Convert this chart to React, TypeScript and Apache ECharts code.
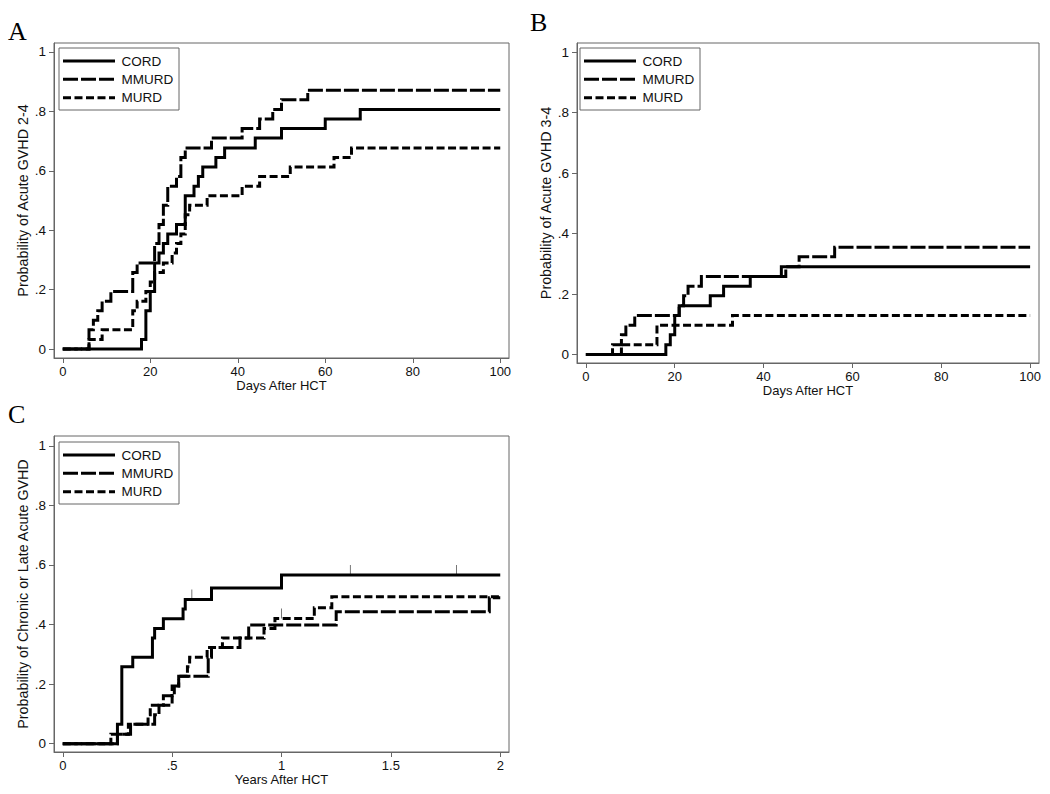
import React, { useEffect, useRef } from "react";
import * as echarts from "echarts";

// ---- Data ----
const seriesNames = ["CORD", "MMURD", "MURD"];

// Panel A: Probability of Acute GVHD 2-4 (days)
const aCord = [[0,0],[18,0.032],[19,0.129],[20,0.194],[21,0.290],[22,0.323],[23,0.355],[24,0.387],[26,0.419],[28,0.516],[30,0.548],[31,0.581],[32,0.613],[35,0.645],[37,0.677],[44,0.710],[50,0.742],[60,0.774],[68,0.806],[100,0.806]];
const aMmurd = [[0,0],[6,0.065],[7,0.097],[8,0.129],[9,0.161],[11,0.194],[16,0.258],[17,0.290],[21,0.355],[22,0.419],[23,0.484],[24,0.548],[26,0.581],[27,0.645],[28,0.677],[34,0.710],[41,0.742],[45,0.774],[48,0.806],[50,0.839],[56,0.871],[100,0.871]];
const aMurd = [[0,0],[6,0.032],[9,0.065],[16,0.129],[17,0.161],[19,0.194],[20,0.226],[21,0.258],[23,0.290],[25,0.323],[26,0.355],[27,0.387],[28,0.452],[29,0.484],[33,0.516],[41,0.548],[45,0.581],[52,0.613],[62,0.645],[66,0.677],[100,0.677]];

// Panel B: Probability of Acute GVHD 3-4 (days)
const bCord = [[0,0],[18,0.032],[19,0.065],[20,0.129],[21,0.161],[28,0.194],[31,0.226],[37,0.258],[44,0.290],[100,0.290]];
const bMmurd = [[0,0],[6,0.032],[8,0.065],[9,0.097],[11,0.129],[21,0.161],[22,0.194],[23,0.226],[26,0.258],[45,0.290],[48,0.323],[56,0.355],[100,0.355]];
const bMurd = [[0,0],[8,0.032],[16,0.097],[33,0.129],[100,0.129]];

// Panel C: Probability of Chronic or Late Acute GVHD (years)
const cCord = [[0,0],[0.25,0.065],[0.27,0.258],[0.32,0.290],[0.41,0.355],[0.42,0.387],[0.46,0.419],[0.55,0.452],[0.56,0.484],[0.68,0.523],[1.0,0.566],[2,0.566]];
const cMmurd = [[0,0],[0.25,0.032],[0.31,0.065],[0.42,0.097],[0.44,0.129],[0.46,0.161],[0.50,0.194],[0.53,0.226],[0.665,0.290],[0.68,0.323],[0.81,0.355],[0.85,0.398],[1.25,0.443],[1.95,0.490],[2,0.490]];
const cMurd = [[0,0],[0.22,0.032],[0.30,0.065],[0.39,0.097],[0.40,0.129],[0.50,0.161],[0.51,0.194],[0.53,0.226],[0.57,0.258],[0.58,0.290],[0.66,0.323],[0.73,0.355],[0.92,0.387],[0.97,0.420],[1.15,0.456],[1.23,0.493],[2,0.493]];
const cCordCensor = [[0.59,0.484],[1.315,0.566],[1.80,0.566]];
const cMurdCensor = [[1.0,0.420]];

const dayTicks = [0, 20, 40, 60, 80, 100];
const yearTicks = [0, 0.5, 1, 1.5, 2];
const probTicks = [0, 0.2, 0.4, 0.6, 0.8, 1];

const panelLetters = ["A", "B", "C"];
const yTitles = [
  "Probability of Acute GVHD 2-4",
  "Probability of Acute GVHD 3-4",
  "Probability of Chronic or Late Acute GVHD",
];
const xTitles = ["Days After HCT", "Days After HCT", "Years After HCT"];

// ---- Styles ----
const SANS = "'Liberation Sans', Arial, Helvetica, sans-serif";
const SERIF = "'Liberation Serif', 'Times New Roman', serif";
const FRAME = "#666";
const TEXT = "#111";
const dashes: any[] = ["solid", [15, 3], [8, 3.5]];

const fmtNum = (v: number) => {
  if (v === 0) return "0";
  const s = String(Math.round(v * 100) / 100);
  return s.startsWith("0.") ? s.slice(1) : s;
};

function makeAxes(i: number, xMin: number, xMax: number, xTicks: number[], yMin: number, yMax: number) {
  const tickStyle = { color: FRAME, width: 1 };
  const labelStyle = { fontFamily: SANS, fontSize: 13, color: TEXT };
  const xAxis = {
    gridIndex: i,
    type: "value",
    min: xMin,
    max: xMax,
    axisLine: { show: true, onZero: false, lineStyle: tickStyle },
    axisTick: { show: true, inside: false, length: 5, customValues: xTicks, lineStyle: tickStyle },
    axisLabel: { ...labelStyle, margin: 7, customValues: xTicks, formatter: (v: number) => fmtNum(v) },
    splitLine: { show: false },
    name: xTitles[i],
    nameLocation: "middle",
    nameGap: 21,
    nameTextStyle: { fontFamily: SANS, fontSize: 13, color: TEXT },
  };
  const yAxis = {
    gridIndex: i,
    type: "value",
    min: yMin,
    max: yMax,
    axisLine: { show: true, onZero: false, lineStyle: tickStyle },
    axisTick: { show: true, inside: false, length: 5, customValues: probTicks, lineStyle: tickStyle },
    axisLabel: { ...labelStyle, fontSize: 13.5, margin: 8, customValues: probTicks, formatter: (v: number) => fmtNum(v) },
    splitLine: { show: false },
    name: yTitles[i],
    nameLocation: "middle",
    nameRotate: 90,
    nameGap: 24,
    nameTextStyle: { fontFamily: SANS, fontSize: 14.3, color: TEXT },
  };
  return { xAxis, yAxis };
}

function lineSeries(name: string, idx: number, data: number[][], styleIdx: number) {
  return {
    name,
    type: "line",
    xAxisIndex: idx,
    yAxisIndex: idx,
    data,
    step: "end",
    symbol: "none",
    silent: true,
    lineStyle: { color: "#000", width: 3, type: dashes[styleIdx], cap: "butt", join: "miter" },
  };
}

function censorSeries(idx: number, data: number[][]) {
  return {
    type: "scatter",
    xAxisIndex: idx,
    yAxisIndex: idx,
    data,
    symbol: "rect",
    symbolSize: [1, 10],
    symbolOffset: [0, -5],
    silent: true,
    itemStyle: { color: "#555" },
    z: 1,
  };
}

function legendGroup(x: number, y: number) {
  const rows = [13, 31.3, 49.7];
  const children: any[] = [
    {
      type: "rect",
      shape: { x: 0, y: 0, width: 120, height: 62 },
      style: { fill: "#fff", stroke: FRAME, lineWidth: 1 },
    },
  ];
  seriesNames.forEach((n, k) => {
    children.push({
      type: "line",
      shape: { x1: 4, y1: rows[k], x2: 56, y2: rows[k] },
      style: {
        stroke: "#000",
        lineWidth: 3,
        lineDash: k === 0 ? null : dashes[k],
        lineCap: "butt",
      },
    });
    children.push({
      type: "text",
      x: 62.5,
      y: rows[k],
      style: { text: n, fontFamily: SANS, fontSize: 13.5, fill: TEXT, verticalAlign: "middle", align: "left" },
    });
  });
  return { type: "group", x, y, children, z: 100 };
}

function letter(t: string, x: number, y: number) {
  return {
    type: "text",
    x,
    y,
    style: { text: t, fontFamily: SERIF, fontSize: 26, fill: "#000", verticalAlign: "middle", align: "left" },
  };
}

export default function App() {
  const ref = useRef<HTMLDivElement>(null);
  useEffect(() => {
    if (!ref.current) return;
    const chart = echarts.init(ref.current, null, { renderer: "svg" });

    const gA = makeAxes(0, -2, 102, dayTicks, -0.03, 1.03);
    const gB = makeAxes(1, -2, 102, dayTicks, -0.028, 1.03);
    const gC = makeAxes(2, -0.04, 2.04, yearTicks, -0.028, 1.033);

    const gridStyle = { show: true, borderColor: FRAME, borderWidth: 1, backgroundColor: "transparent" };

    chart.setOption({
      animation: false,
      backgroundColor: "#fff",
      grid: [
        { ...gridStyle, left: 54, top: 43, width: 455, height: 315 },
        { ...gridStyle, left: 577, top: 43, width: 462, height: 320 },
        { ...gridStyle, left: 54, top: 436, width: 455, height: 316 },
      ],
      xAxis: [gA.xAxis, gB.xAxis, gC.xAxis],
      yAxis: [gA.yAxis, gB.yAxis, gC.yAxis],
      series: [
        lineSeries("MURD", 0, aMurd, 2),
        lineSeries("MMURD", 0, aMmurd, 1),
        lineSeries("CORD", 0, aCord, 0),
        lineSeries("MURD", 1, bMurd, 2),
        lineSeries("MMURD", 1, bMmurd, 1),
        lineSeries("CORD", 1, bCord, 0),
        lineSeries("MURD", 2, cMurd, 2),
        lineSeries("MMURD", 2, cMmurd, 1),
        lineSeries("CORD", 2, cCord, 0),
        censorSeries(2, cCordCensor),
        censorSeries(2, cMurdCensor),
      ],
      graphic: [
        legendGroup(59, 48),
        legendGroup(580, 48),
        legendGroup(59, 442),
        letter(panelLetters[0], 8, 31.5),
        letter(panelLetters[1], 530, 22.5),
        letter(panelLetters[2], 8, 414),
      ],
    });
    return () => chart.dispose();
  }, []);
  return (
    <div
      ref={ref}
      style={{ position: "absolute", left: 0, top: 0, width: 1050, height: 794, background: "#fff" }}
    />
  );
}
